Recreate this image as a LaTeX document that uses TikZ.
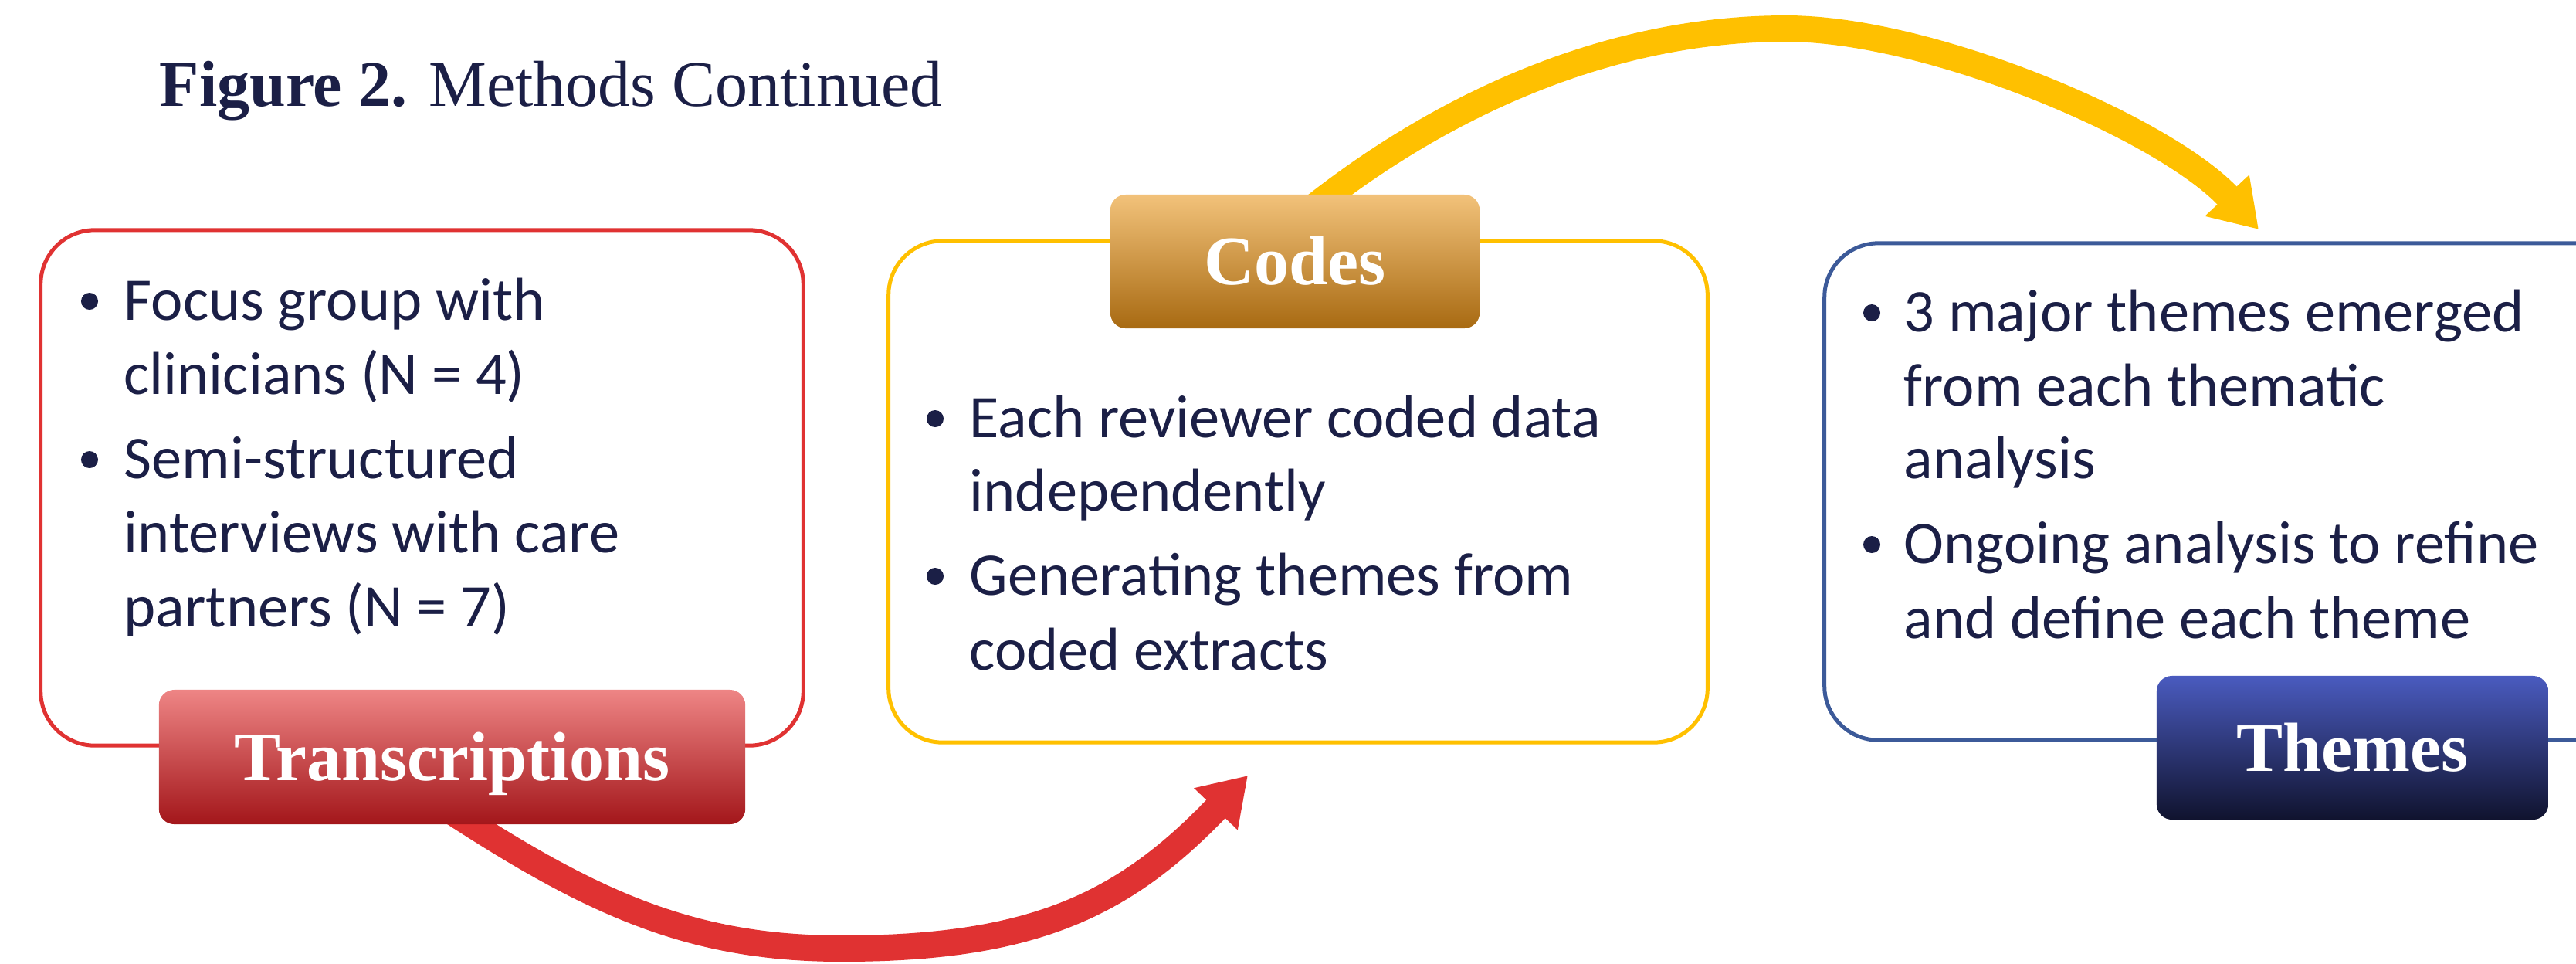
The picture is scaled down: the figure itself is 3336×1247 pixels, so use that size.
\documentclass[tikz,border=0pt]{standalone}
\usepackage{fontspec}
\setmainfont{Carlito}
\newfontfamily\headfont{Liberation Serif}
\usetikzlibrary{arrows.meta,calc,backgrounds}
\definecolor{navy}{HTML}{1B1F46}
\definecolor{redline}{HTML}{E03232}
\definecolor{goldline}{HTML}{FFC000}
\definecolor{blueline}{HTML}{3C5A99}
\definecolor{transtop}{HTML}{EE8585}
\definecolor{transmid}{HTML}{E03333}
\definecolor{transbot}{HTML}{A3161A}
\definecolor{codetop}{HTML}{F2C27A}
\definecolor{codemid}{HTML}{E89A2A}
\definecolor{codebot}{HTML}{A86A12}
\definecolor{themetop}{HTML}{4A5BBF}
\definecolor{thememid}{HTML}{232A62}
\definecolor{themebot}{HTML}{10132E}

\begin{document}
\begin{tikzpicture}[x=0.01cm,y=-0.01cm,
  boxframe/.style={draw,line width=0.05cm,rounded corners=0.7cm,inner sep=0pt},
  tag/.style={rounded corners=0.2cm,text=white,inner sep=0pt,
    font=\headfont\bfseries\fontsize{25.6}{30}\selectfont,text height=0.6cm,text depth=0cm},
  txt/.style={anchor=base west,inner sep=0pt,text=navy,font=\fontsize{22.3}{27}\selectfont},
  dot/.style={circle,fill=navy,minimum size=0.22cm,inner sep=0pt},
  band/.style={line width=0.34cm,-{Triangle[length=0.6cm,width=0.74cm]}}]
  \useasboundingbox (0,0) rectangle (3336,1247);

  % Title
  \node[anchor=base west,inner sep=0pt,text=navy,font=\headfont\fontsize{23.9}{28}\selectfont]
    (title) at (206,137) {\textbf{Figure 2.} Methods Continued};

  % Data collection box
  \node[boxframe,draw=redline,minimum width=9.87cm,minimum height=6.67cm] (collect) at (546.5,631.5) {};
  \node[dot] (c1) at (116,390) {};
  \node[txt] (c1a) at (160,414) {Focus group with};
  \node[txt] (c1b) at (160,510) {clinicians (N = 4)};
  \node[dot] (c2) at (116,595) {};
  \node[txt] (c2a) at (160,619) {Semi-structured};
  \node[txt] (c2b) at (160,715) {interviews with care};
  \node[txt] (c2c) at (160,811) {partners (N = 7)};
  \node[tag,top color=transtop,middle color=transmid,bottom color=transbot,
    minimum width=7.59cm,minimum height=1.74cm] (trans) at (585.5,980) {Transcriptions};

  % Coding box
  \node[boxframe,draw=goldline,minimum width=10.6cm,minimum height=6.49cm] (coding) at (1681,636.5) {};
  \node[dot] (d1) at (1211,542) {};
  \node[txt] (d1a) at (1255,566) {Each reviewer coded data};
  \node[txt] (d1b) at (1255,661) {independently};
  \node[dot] (d2) at (1211,746) {};
  \node[txt] (d2a) at (1255,770) {Generating themes from};
  \node[txt] (d2b) at (1255,867) {coded extracts};
  \node[tag,top color=codetop,middle color=codemid,bottom color=codebot,
    minimum width=4.78cm,minimum height=1.73cm] (codes) at (1677,338.5) {Codes};

  % Themes box
  \node[boxframe,draw=blueline,minimum width=10.5cm,minimum height=6.43cm] (result) at (2888,636.5) {};
  \node[dot] (t1) at (2424,405) {};
  \node[txt] (t1a) at (2465,429) {3 major themes emerged};
  \node[txt] (t1b) at (2465,525) {from each thematic};
  \node[txt] (t1c) at (2465,619) {analysis};
  \node[dot] (t2) at (2424,705) {};
  \node[txt] (t2a) at (2465,729) {Ongoing analysis to refine};
  \node[txt] (t2b) at (2465,826) {and define each theme};
  \node[tag,top color=themetop,middle color=thememid,bottom color=themebot,
    minimum width=5.07cm,minimum height=1.86cm] (themes) at (3046.5,968) {Themes};

  % Arrows
  \coordinate (redtip) at (1616,1004);
  \coordinate (goldtip) at (2925,297);
  \begin{scope}[on background layer]
    \draw[band,redline] ($(trans.south)+(-20,-30)$) .. controls (760,1166) and (890,1228) .. (1090,1228)
      .. controls (1340,1228) and (1457,1170) .. (redtip);
    \draw[band,goldline] ($(codes.north)+(-2,38)$) .. controls (1860,136) and (2083,37) .. (2313,37)
      .. controls (2500,37) and (2803,166) .. (goldtip);
  \end{scope}
\end{tikzpicture}
\end{document}
